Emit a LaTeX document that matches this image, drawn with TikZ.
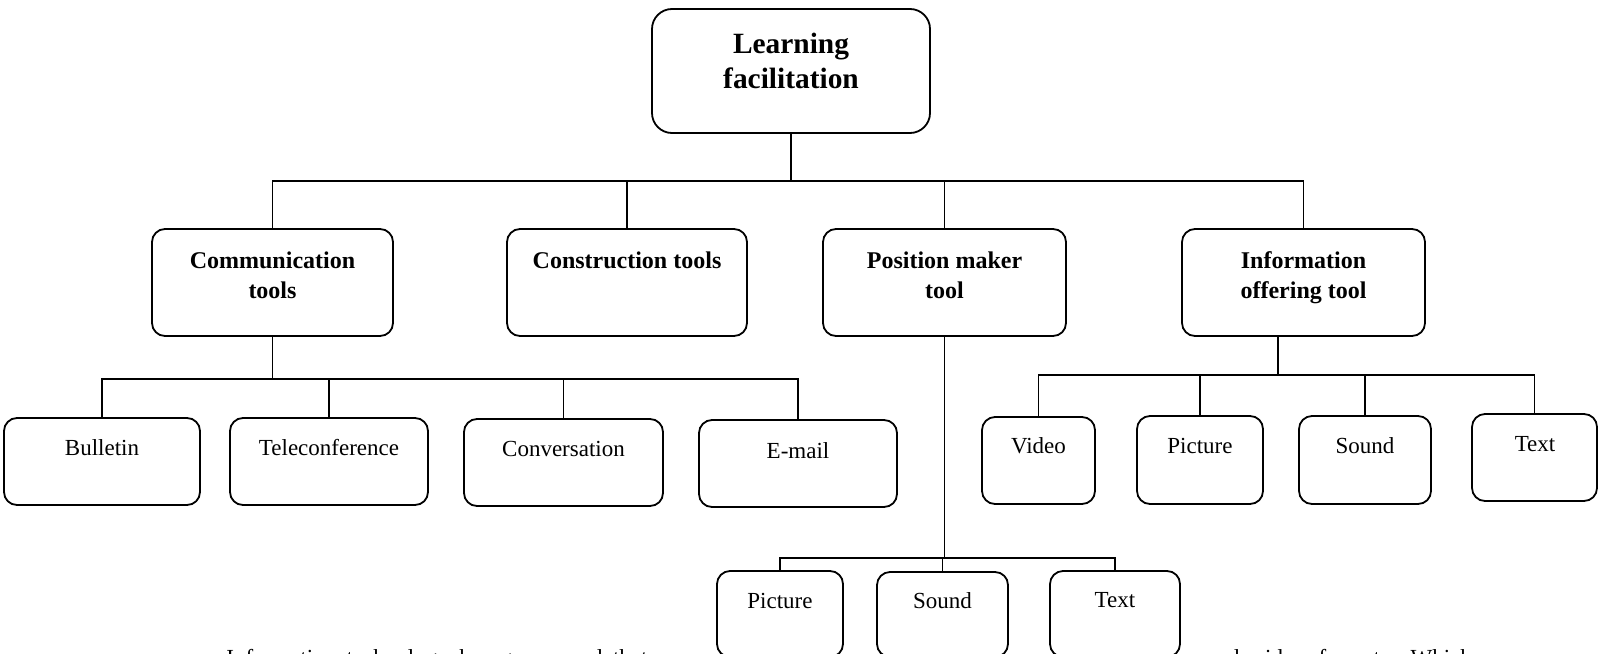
\documentclass[tikz,border=0pt]{standalone}
\usepackage{fontspec}
\setmainfont{Liberation Serif}
\usetikzlibrary{fit}
\begin{document}
\begin{tikzpicture}[x=0.5pt,y=-0.5pt,
  box/.style={draw, line width=0.9pt, rounded corners=6.5pt, inner sep=0pt},
  bigbox/.style={box, rounded corners=10pt},
  ln/.style={line width=0.9pt},
  ttxt/.style={font=\fontsize{14.7}{17.5}\selectfont\bfseries, align=center, inner sep=0pt, anchor=north},
  btxt/.style={font=\fontsize{12}{15}\selectfont\bfseries, align=center, inner sep=0pt, anchor=north},
  txt/.style={font=\fontsize{11.5}{14}\selectfont, inner sep=0pt, anchor=base},
]
\clip (0,0) rectangle (1599,653);
% boxes
\node[bigbox, fit={(652,9)(930,133)}] (lf) {};
\node[box, fit={(152,229)(393,336)}] (comm) {};
\node[box, fit={(507,229)(747,336)}] (constr) {};
\node[box, fit={(823,229)(1066,336)}] (pos) {};
\node[box, fit={(1182,229)(1425,336)}] (info) {};
\node[box, fit={(4,418)(200,505)}] (bul) {};
\node[box, fit={(230,418)(428,505)}] (tel) {};
\node[box, fit={(464,419)(663,506)}] (conv) {};
\node[box, fit={(699,420)(897,507)}] (eml) {};
\node[box, fit={(982,417)(1095,504)}] (vid) {};
\node[box, fit={(1137,416)(1263,504)}] (pic) {};
\node[box, fit={(1299,416)(1431,504)}] (snd) {};
\node[box, fit={(1472,414)(1597,501)}] (txb) {};
\node[box, fit={(717,571)(843,657)}] (picb) {};
\node[box, fit={(877,572)(1008,657)}] (sndb) {};
\node[box, fit={(1050,571)(1180,657)}] (txtb) {};
% texts
\node[ttxt] (lft) at (791,33) {Learning\\facilitation};
\node[btxt] (commt) at (272.5,251) {Communication\\tools};
\node[btxt] (constrt) at (627,251) {Construction tools};
\node[btxt] (post) at (944.5,251) {Position maker\\tool};
\node[btxt] (infot) at (1303.5,251) {Information\\offering tool};
\node[txt] (bult) at (102,455) {Bulletin};
\node[txt] (telt) at (329,455) {Teleconference};
\node[txt] (convt) at (563.5,456) {Conversation};
\node[txt] (emlt) at (798,458) {E-mail};
\node[txt] (vidt) at (1038.5,453) {Video};
\node[txt] (pict) at (1200,453) {Picture};
\node[txt] (sndt) at (1365,453) {Sound};
\node[txt] (txbt) at (1535,451) {Text};
\node[txt] (picbt) at (780,608) {Picture};
\node[txt] (sndbt) at (942.5,608) {Sound};
\node[txt] (txtbt) at (1115,607) {Text};
\node[txt, anchor=base west] (para1) at (226,665) {\spaceskip=5.2pt Information technology has grown and that};
\node[txt, anchor=base west] (para2) at (1206,665) {\spaceskip=7pt and video formats. Which};
% connectors
\coordinate (b1) at (0,181);
\coordinate (b2) at (0,379);
\coordinate (b3) at (0,558);
\coordinate (b4) at (0,375);
\coordinate (infost) at (1278,0);
\draw[ln] (lf.south) -- (lf.south |- b1);
\draw[ln] (comm.north) -- (comm.north |- b1) -- (info.north |- b1) -- (info.north);
\draw[ln] (constr.north) -- (constr.north |- b1);
\draw[ln] (pos.north) -- (pos.north |- b1);
\draw[ln] (comm.south) -- (comm.south |- b2);
\draw[ln] (bul.north) -- (bul.north |- b2) -- (eml.north |- b2) -- (eml.north);
\draw[ln] (tel.north) -- (tel.north |- b2);
\draw[ln] (conv.north) -- (conv.north |- b2);
\draw[ln] (pos.south) -- (pos.south |- b3);
\draw[ln] (picb.north) -- (picb.north |- b3) -- (txtb.north |- b3) -- (txtb.north);
\draw[ln] (sndb.north) -- (sndb.north |- b3);
\draw[ln] (info.south -| infost) -- (infost |- b4);
\draw[ln] (vid.north) -- (vid.north |- b4) -- (txb.north |- b4) -- (txb.north);
\draw[ln] (pic.north) -- (pic.north |- b4);
\draw[ln] (snd.north) -- (snd.north |- b4);
\end{tikzpicture}
\end{document}
